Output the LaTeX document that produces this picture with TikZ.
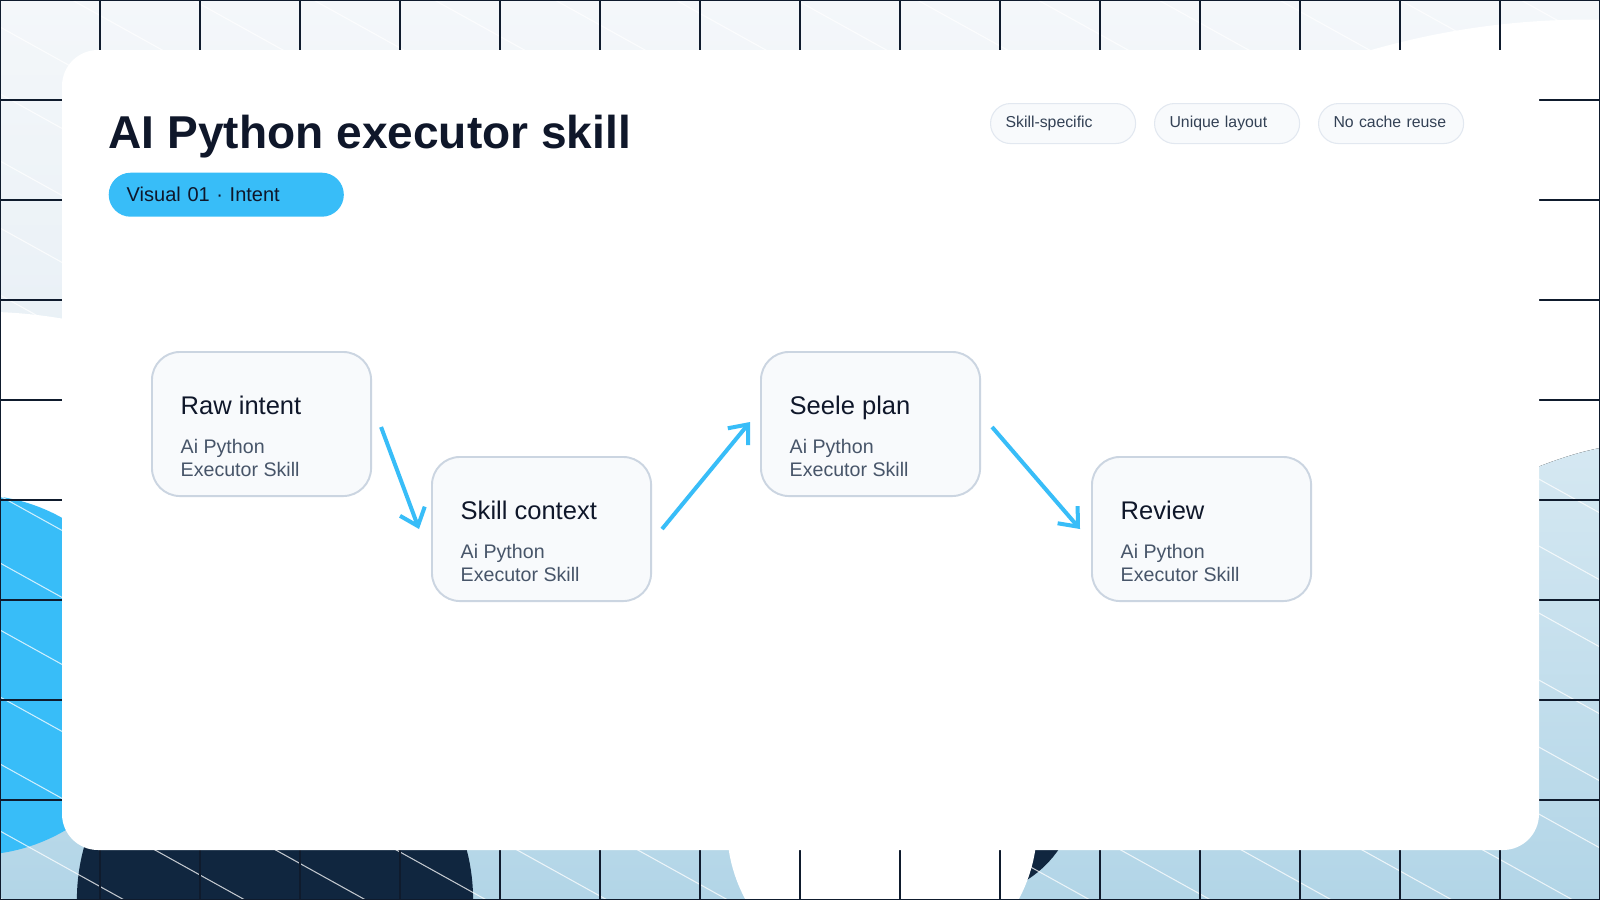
\documentclass[tikz,border=0pt]{standalone}
\usepackage{fontspec}
\setmainfont{Liberation Sans}
\usepackage{tikz}
\usetikzlibrary{arrows.meta,positioning}
\usepackage{xcolor}

\definecolor{ink}{HTML}{0F172A}
\definecolor{slate}{HTML}{475569}
\definecolor{tagtext}{HTML}{334155}
\definecolor{sky}{HTML}{38BDF8}
\definecolor{navy}{HTML}{10263F}
\definecolor{cardfill}{HTML}{F8FAFC}
\definecolor{cardline}{HTML}{CBD5E1}
\definecolor{tagline}{HTML}{E2E8F0}
\definecolor{mist}{HTML}{B2D5E7}
\definecolor{mistlight}{HTML}{D5E8F2}
\definecolor{haze}{HTML}{F4F7FA}
\definecolor{hazedeep}{HTML}{D6E5EF}
\definecolor{gridline}{HTML}{0F1B2D}

\tikzset{
  stagebox/.style={draw=cardline,line width=0.55pt,fill=cardfill,rounded corners=0.28cm,
    minimum width=2.19cm,minimum height=1.44cm,anchor=north west,inner sep=0pt},
  stagetitle/.style={anchor=base west,inner sep=0pt,text=ink,font=\fontsize{7.26pt}{8.7pt}\selectfont},
  stagesub/.style={anchor=base west,inner sep=0pt,align=left,text=slate,font=\fontsize{5.58pt}{6.37pt}\selectfont},
  tagpill/.style={draw=tagline,line width=0.3pt,fill=cardfill,rounded corners=0.2cm,minimum height=0.4cm,
    text width=1.15cm,inner xsep=0.15cm,inner ysep=0pt,text height=0.115cm,text depth=0.045cm,
    anchor=north west,align=left,text=tagtext,font=\fontsize{4.5pt}{5.6pt}\selectfont},
  flow/.style={->,sky,line width=1.14pt},
}

\begin{document}
\begin{tikzpicture}[x=0.01cm,y=-0.01cm,>={Straight Barb[length=4.5pt,width=7.5pt]}]

\useasboundingbox (0,0) rectangle (1600,900);

\begin{scope}
\clip (0,0) rectangle (1600,900);
\fill[top color=haze,bottom color=hazedeep] (0,0) rectangle (1600,900);
\fill[white] (-20,800) circle[radius=4.88cm];
\fill[white] (1589,808) circle[radius=7.88cm];
\fill[top color=mistlight,bottom color=mist] (0,700) -- (1480,700) -- (1530,470)
  .. controls (1560,458) and (1580,452) .. (1600,448) -- (1600,900) -- (0,900) -- cycle;
\fill[sky] (-26,675) circle[radius=1.8cm];
\fill[navy] (275,900) circle[radius=1.98cm];
\fill[navy] (968,787) circle[radius=1.1cm];
\fill[white] (882,826) circle[radius=1.55cm];
\foreach \k in {-14,...,13} {
  \pgfmathsetmacro\c{27+67*\k}
  \draw[white,opacity=0.75,line width=0.3pt] (0,\c) -- (1600,\c+888);
}
\foreach \x in {0,100,...,1600}
  \draw[gridline,line width=0.4pt] (\x,0) -- (\x,900);
\foreach \y in {0,100,...,900}
  \draw[gridline,line width=0.4pt] (0,\y) -- (1600,\y);
\end{scope}

\fill[white,rounded corners=0.36cm] (62,50) rectangle (1539,850);

\node[anchor=base west,inner sep=0pt,text=ink,font=\fontsize{13.1pt}{15pt}\selectfont\bfseries]
  (title) at (108,148) {AI Python executor skill};
\node[fill=sky,rounded corners=0.22cm,minimum height=0.44cm,text width=1.99cm,inner xsep=0.18cm,
  inner ysep=0pt,text height=0.15cm,text depth=0.01cm,anchor=north west,align=left,text=ink,
  font=\fontsize{5.69pt}{6.8pt}\selectfont] (badge) at (108,172) {Visual 01 · Intent};

\node[tagpill] (tag1) at (990,103) {Skill-specific};
\node[tagpill] (tag2) at (1154,103) {Unique layout};
\node[tagpill] (tag3) at (1318,103) {No cache reuse};

\def\rowA{351}
\def\rowB{456}

\node[stagebox] (raw) at (151,\rowA) {};
\node[stagetitle] (raw-t) at ([shift={(29,63)}]raw.north west) {Raw intent};
\node[stagesub] (raw-s) at ([shift={(29,125)}]raw.north west) {Ai Python\\Executor Skill};

\node[stagebox] (ctx) at (431,\rowB) {};
\node[stagetitle] (ctx-t) at ([shift={(29,63)}]ctx.north west) {Skill context};
\node[stagesub] (ctx-s) at ([shift={(29,125)}]ctx.north west) {Ai Python\\Executor Skill};

\node[stagebox] (plan) at (760,\rowA) {};
\node[stagetitle] (plan-t) at ([shift={(29,63)}]plan.north west) {Seele plan};
\node[stagesub] (plan-s) at ([shift={(29,125)}]plan.north west) {Ai Python\\Executor Skill};

\node[stagebox] (review) at (1091,\rowB) {};
\node[stagetitle] (review-t) at ([shift={(29,63)}]review.north west) {Review};
\node[stagesub] (review-s) at ([shift={(29,125)}]review.north west) {Ai Python\\Executor Skill};

\draw[flow] ([shift={(9,3)}]raw.east) -- ([shift={(-12,0)}]ctx.west);
\draw[flow] ([shift={(10,0)}]ctx.east) -- ([shift={(-10,-2)}]plan.west);
\draw[flow] ([shift={(11,3)}]plan.east) -- ([shift={(-11,0)}]review.west);

\end{tikzpicture}
\end{document}
